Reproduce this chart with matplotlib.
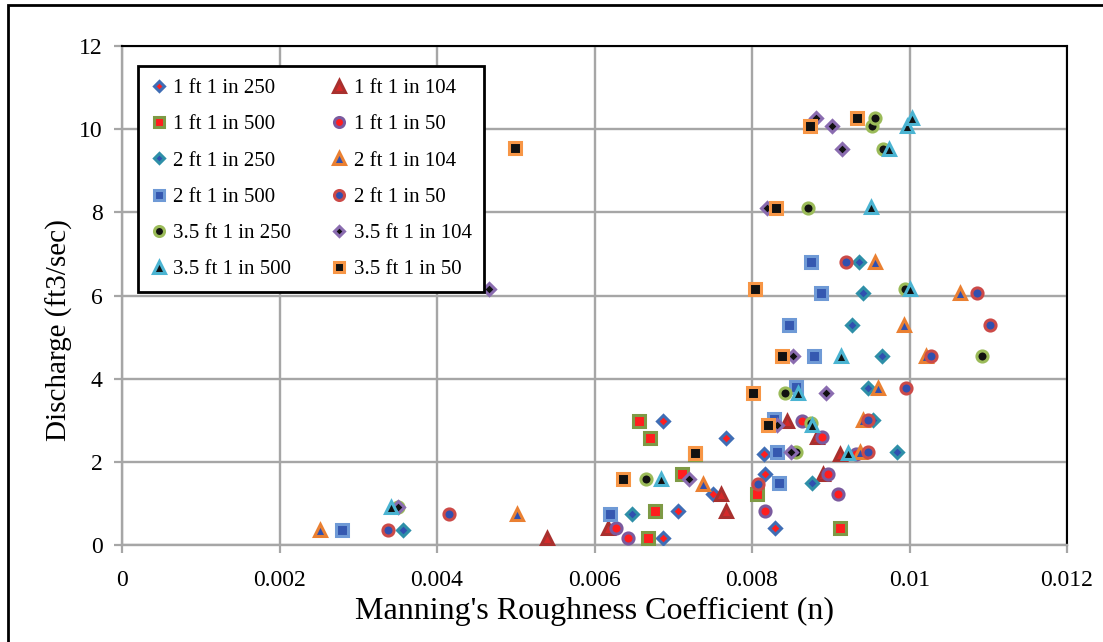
import matplotlib
matplotlib.use("Agg")
import matplotlib.pyplot as plt
from matplotlib.patches import Rectangle

plt.rcParams['font.family'] = ['Liberation Serif', 'DejaVu Serif']

# Manning's n (x) and discharge in ft3/sec (y)
n_1ft_250 = [0.00687, 0.00829, 0.00706, 0.00751, 0.00817, 0.00815, 0.00767, 0.00687]
q_1ft_250 = [0.17, 0.41, 0.82, 1.23, 1.71, 2.19, 2.57, 2.98]

n_1ft_104 = [0.00540, 0.00617, 0.00767, 0.00760, 0.00890, 0.00912, 0.00883, 0.00844]
q_1ft_104 = [0.17, 0.41, 0.82, 1.23, 1.71, 2.19, 2.60, 2.98]

n_1ft_500 = [0.00668, 0.00912, 0.00677, 0.00806, 0.00711, 0.00727, 0.00670, 0.00656]
q_1ft_500 = [0.17, 0.41, 0.82, 1.23, 1.71, 2.19, 2.57, 2.98]

n_1ft_50 = [0.00642, 0.00627, 0.00816, 0.00909, 0.00897, 0.00932, 0.00889, 0.00863]
q_1ft_50 = [0.17, 0.41, 0.82, 1.23, 1.71, 2.19, 2.60, 2.98]

n_2ft_250 = [0.00357, 0.00648, 0.00876, 0.00984, 0.00954, 0.00947, 0.00965, 0.00927, 0.00941, 0.00936]
q_2ft_250 = [0.37, 0.74, 1.49, 2.24, 3.00, 3.77, 4.54, 5.29, 6.05, 6.80]

n_2ft_104 = [0.00251, 0.00501, 0.00738, 0.00937, 0.00941, 0.00960, 0.01021, 0.00993, 0.01064, 0.00956]
q_2ft_104 = [0.37, 0.74, 1.47, 2.24, 3.00, 3.77, 4.54, 5.29, 6.05, 6.80]

n_2ft_500 = [0.00279, 0.00620, 0.00834, 0.00832, 0.00828, 0.00856, 0.00879, 0.00847, 0.00888, 0.00875]
q_2ft_500 = [0.37, 0.74, 1.49, 2.24, 3.03, 3.80, 4.54, 5.29, 6.05, 6.80]

n_2ft_50 = [0.00338, 0.00415, 0.00807, 0.00947, 0.00947, 0.00996, 0.01027, 0.01102, 0.01086, 0.00919]
q_2ft_50 = [0.37, 0.74, 1.47, 2.24, 3.00, 3.77, 4.54, 5.29, 6.05, 6.80]

n_35ft_250 = [0.00350, 0.00666, 0.00856, 0.00875, 0.00842, 0.01092, 0.00994, 0.00871, 0.00966, 0.00952, 0.00956]
q_35ft_250 = [0.92, 1.59, 2.24, 2.93, 3.65, 4.54, 6.15, 8.10, 9.52, 10.07, 10.27]

n_35ft_104 = [0.00350, 0.00720, 0.00850, 0.00832, 0.00894, 0.00852, 0.00466, 0.00819, 0.00914, 0.00901, 0.00881]
q_35ft_104 = [0.92, 1.59, 2.24, 2.88, 3.65, 4.54, 6.15, 8.10, 9.52, 10.07, 10.27]

n_35ft_500 = [0.00341, 0.00684, 0.00922, 0.00876, 0.00859, 0.00913, 0.01001, 0.00951, 0.00974, 0.00997, 0.01003]
q_35ft_500 = [0.92, 1.59, 2.21, 2.88, 3.65, 4.54, 6.15, 8.12, 9.52, 10.07, 10.27]

n_35ft_50 = [0.00636, 0.00727, 0.00820, 0.00801, 0.00838, 0.00804, 0.00830, 0.00499, 0.00874, 0.00933]
q_35ft_50 = [1.59, 2.21, 2.88, 3.65, 4.54, 6.15, 8.10, 9.54, 10.07, 10.27]

red = '#FF1E1E'
blue = '#3050B0'
blk = '#111111'

# (label, x, y, marker, size, face, edge) - in Excel drawing order
series = [
    ('1 ft 1 in 250', n_1ft_250, q_1ft_250, 'D', 6, red, '#3F6DB5'),
    ('1 ft 1 in 104', n_1ft_104, q_1ft_104, '^', 9, '#D42A2A', '#A8302E'),
    ('1 ft 1 in 500', n_1ft_500, q_1ft_500, 's', 8, red, '#7E9A45'),
    ('1 ft 1 in 50', n_1ft_50, q_1ft_50, 'o', 8, red, '#7A5A9E'),
    ('2 ft 1 in 250', n_2ft_250, q_2ft_250, 'D', 6, blue, '#2E8FA8'),
    ('2 ft 1 in 104', n_2ft_104, q_2ft_104, '^', 9, blue, '#EA8032'),
    ('2 ft 1 in 500', n_2ft_500, q_2ft_500, 's', 8, '#3558B0', '#6F9AD6'),
    ('2 ft 1 in 50', n_2ft_50, q_2ft_50, 'o', 8, blue, '#CC4A48'),
    ('3.5 ft 1 in 250', n_35ft_250, q_35ft_250, 'o', 8, blk, '#9BBB59'),
    ('3.5 ft 1 in 104', n_35ft_104, q_35ft_104, 'D', 6, blk, '#8A6CB0'),
    ('3.5 ft 1 in 500', n_35ft_500, q_35ft_500, '^', 9, blk, '#4BB4D2'),
    ('3.5 ft 1 in 50', n_35ft_50, q_35ft_50, 's', 8, blk, '#F79646'),
]

fig = plt.figure(figsize=(11.03, 6.42), dpi=100)
ax = fig.add_axes([122/1103, 1 - 545/642, (1067 - 122)/1103, (545 - 46)/642])

handles = {}
for label, x, y, m, ms, fc, ec in series:
    h, = ax.plot(x, y, linestyle='none', marker=m, markersize=ms,
                 markerfacecolor=fc, markeredgecolor=ec, markeredgewidth=2.2,
                 label=label, zorder=3)
    handles[label] = h

ax.set_xlim(0, 0.012)
ax.set_ylim(0, 12)
ax.set_xticks([0, 0.002, 0.004, 0.006, 0.008, 0.01, 0.012])
ax.set_xticklabels(['0', '0.002', '0.004', '0.006', '0.008', '0.01', '0.012'])
ax.set_yticks(range(0, 13, 2))
ax.grid(True, color='#A6A6A6', linewidth=1.7)
ax.set_axisbelow(True)
ax.tick_params(axis='both', colors='#A6A6A6', labelcolor='black', labelsize=17,
               length=6, width=1.6, direction='out', pad=8)
ax.tick_params(axis='x', pad=12)

ax.spines['left'].set_color('#A6A6A6')
ax.spines['bottom'].set_color('#A6A6A6')
ax.spines['left'].set_linewidth(1.7)
ax.spines['bottom'].set_linewidth(1.7)
ax.spines['top'].set_color('black')
ax.spines['right'].set_color('black')
ax.spines['top'].set_linewidth(1.5)
ax.spines['right'].set_linewidth(1.5)

ax.set_xlabel("Manning's Roughness Coefficient (n)", fontsize=23, labelpad=4)
ax.set_ylabel('Discharge (ft3/sec)', fontsize=21)
ax.yaxis.set_label_coords(-0.052, 0.43)

# legend columns filled top-down, so reorder to match the row layout
order = ['1 ft 1 in 250', '1 ft 1 in 500', '2 ft 1 in 250', '2 ft 1 in 500',
         '3.5 ft 1 in 250', '3.5 ft 1 in 500',
         '1 ft 1 in 104', '1 ft 1 in 50', '2 ft 1 in 104', '2 ft 1 in 50',
         '3.5 ft 1 in 104', '3.5 ft 1 in 50']
leg = ax.legend([handles[k] for k in order], order, ncol=2, loc='upper left',
                bbox_to_anchor=(0.017, 0.96), borderaxespad=0, fontsize=15,
                frameon=True, fancybox=False, edgecolor='black', framealpha=1,
                handlelength=0.8, handletextpad=0.3, columnspacing=1.9,
                labelspacing=0.8, borderpad=0.6, markerscale=0.9)
leg.get_frame().set_linewidth(2)

# outer chart border
fig.patches.append(Rectangle((8/1103, -0.05), 1.1, 1 - 5/642 + 0.05,
                             transform=fig.transFigure, fill=False,
                             edgecolor='black', linewidth=2))

fig.savefig('out.png', dpi=100)
